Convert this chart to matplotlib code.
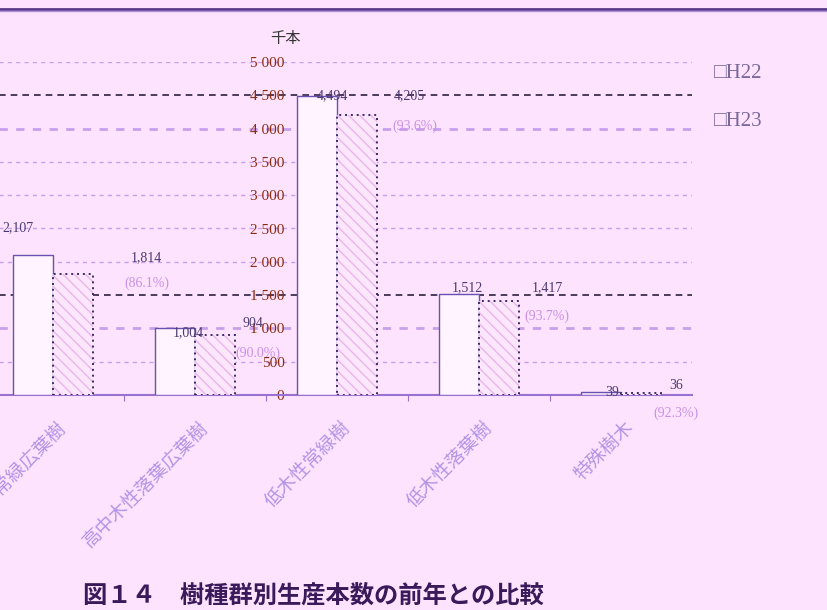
import numpy as np
import matplotlib
matplotlib.use("Agg")
import matplotlib.pyplot as plt

plt.rcParams['font.family'] = ['Noto Sans CJK JP', 'DejaVu Sans']

# ---------- data ----------
categories = ["高中木性常緑広葉樹", "高中木性落葉広葉樹", "低木性常緑樹", "低木性落葉樹", "特殊樹木"]
h22 = [2107, 1004, 4494, 1512, 39]
h23 = [1814, 904, 4205, 1417, 36]
pct = ["(86.1%)", "(90.0%)", "(93.6%)", "(93.7%)", "(92.3%)"]
yticks = [0, 500, 1000, 1500, 2000, 2500, 3000, 3500, 4000, 4500, 5000]
ytick_labels = ["0", "500", "1 000", "1 500", "2 000", "2 500", "3 000", "3 500", "4 000", "4 500", "5 000"]
series = ["H22", "H23"]
unit = "千本"
title = "図１４　樹種群別生産本数の前年との比較"

# ---------- layout (label offsets, data units) ----------
h22_lab_dx = [-0.25, -0.05, -0.03, -0.085, -0.06]
h22_lab_y = [2507, 931, 4489, 1607, 45]
h23_lab_dx = [0.66, 0.41, 0.51, 0.48, 0.39]
h23_lab_y = [2057, 1081, 4489, 1607, 150]
pct_dx = [0.66, 0.44, 0.55, 0.48, 0.39]
pct_y = [1682, 631, 4039, 1186, -270]

BG = "#fde3fd"
W, H = 827, 610
fig = plt.figure(figsize=(W / 100, H / 100), dpi=100, facecolor=BG)
ax = fig.add_axes([-18 / W, (H - 395) / H, 710 / W, 333 / H])
ax.set_facecolor(BG)

x = np.arange(len(categories))
bw = 0.285
ax.bar(x - bw / 2, h22, bw, color="#fff4ff", edgecolor="#6a50b0", linewidth=1, zorder=3)
ax.bar(x + bw / 2, h23, bw, color="#fbe6fb", edgecolor="#eab6ea", hatch="\\\\\\", linewidth=0, zorder=3)
ax.bar(x + bw / 2, h23, bw, fill=False, edgecolor="#3a2a6a", linewidth=1.4,
       linestyle=(0, (1, 2)), zorder=4)

ax.set_xlim(-0.5, 4.5)
ax.set_ylim(0, 5000)

# y axis sits in the middle of the plot, as in the source
ax.spines['left'].set_position(('data', 1.669))
ax.spines['left'].set_visible(False)
for s in ['top', 'right']:
    ax.spines[s].set_visible(False)
ax.spines['bottom'].set_color("#9a70d0")
ax.spines['bottom'].set_linewidth(1.5)
ax.set_yticks(yticks)
ax.set_yticklabels(ytick_labels, family=['Liberation Serif', 'DejaVu Serif'], fontsize=11, color="#8b2a10")
ax.tick_params(axis='y', length=0, pad=4)
ax.set_xticks([0.5, 1.5, 2.5, 3.5])
ax.set_xticklabels([])
ax.tick_params(axis='x', length=4, color="#9a70d0", direction='out')

ax.set_axisbelow(True)
ax.yaxis.grid(True, color="#c8a0ec", linewidth=1, linestyle=(0, (3, 3)))
for v, gl in zip(yticks, ax.get_ygridlines()):
    if v in (1500, 4500):
        gl.set_color("#2e2040")
        gl.set_linewidth(1.2)
        gl.set_linestyle((0, (4, 3)))
    elif v in (1000, 4000):
        gl.set_linewidth(2)
    elif v == 0:
        gl.set_visible(False)

# value labels
serif = ['Liberation Serif', 'DejaVu Serif']
for i in range(len(categories)):
    ax.text(i + h22_lab_dx[i], h22_lab_y[i], f"{h22[i]:,}", ha='center', va='center',
            fontsize=10, color="#4a3a70", family=serif, zorder=5)
    ax.text(i + h23_lab_dx[i], h23_lab_y[i], f"{h23[i]:,}", ha='center', va='center',
            fontsize=10, color="#4a3a70", family=serif, zorder=5)
    ax.text(i + pct_dx[i], pct_y[i], pct[i], ha='center', va='center',
            fontsize=10, color="#c890e8", family=serif, zorder=5, clip_on=False)
    ax.text(i + 0.02, -330, categories[i], rotation=45, ha='right', va='top',
            rotation_mode='anchor', fontsize=13.5, color="#b294e6", clip_on=False)

# unit and legend
fig.text(285 / W, 1 - 38 / H, unit, ha='center', va='center', fontsize=11, color="#333333")
for lab, yy in zip(series, [73, 122]):
    fig.text(714 / W, 1 - yy / H, "□" + lab, ha='left', va='center', fontsize=15,
             color="#7a6a9a", family=['Liberation Serif', 'DejaVu Sans'])

fig.text(313 / W, 1 - 596 / H, title, ha='center', va='center', fontsize=17.5,
         fontweight='bold', color="#3a1a5a")

# top rule
fig.add_artist(plt.Line2D([0, 1], [1 - 9 / H, 1 - 9 / H], color="#5a3a8a", linewidth=2))
fig.add_artist(plt.Line2D([0, 1], [1 - 11 / H, 1 - 11 / H], color="#b090d8", linewidth=1))

fig.savefig("out.png", dpi=100, facecolor=BG)
